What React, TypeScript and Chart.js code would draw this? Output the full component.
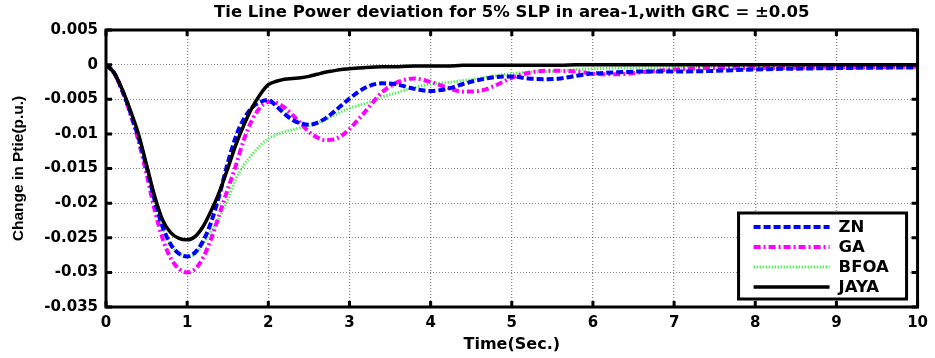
import React, { useEffect, useRef } from 'react';
import { Chart, registerables } from 'chart.js';

Chart.register(...registerables);

const TITLE = 'Tie Line Power deviation for 5% SLP in area-1,with GRC = ±0.05';
const X_LABEL = 'Time(Sec.)';
const Y_LABEL = 'Change in Ptie(p.u.)';

const X_TICKS = [0, 1, 2, 3, 4, 5, 6, 7, 8, 9, 10];
const Y_TICKS = [0.005, 0, -0.005, -0.01, -0.015, -0.02, -0.025, -0.03, -0.035];

const TIME = [
  0, 0.1, 0.2, 0.3, 0.4, 0.5, 0.6, 0.7, 0.8, 0.9,
  1.0, 1.1, 1.2, 1.3, 1.4, 1.5, 1.6, 1.7, 1.8, 1.9,
  2.0, 2.1, 2.2, 2.3, 2.4, 2.5, 2.6, 2.7, 2.8, 2.9,
  3.0, 3.2, 3.4, 3.6, 3.8, 4.0, 4.2, 4.4, 4.6, 4.8,
  5.0, 5.2, 5.4, 5.6, 5.8, 6.0, 6.3, 6.6, 7.0, 7.5,
  8.0, 9.0, 10.0,
];

const ZN = [
  0, -0.0012, -0.0037, -0.0069, -0.0105, -0.0148, -0.0196, -0.0235, -0.0260, -0.0273,
  -0.0277, -0.0271, -0.0254, -0.0226, -0.0187, -0.0142, -0.0104, -0.0078, -0.0062, -0.0054,
  -0.0051, -0.0060, -0.0071, -0.0080, -0.0085, -0.0087, -0.0084, -0.0078, -0.0069, -0.0059,
  -0.0049, -0.0033, -0.0027, -0.0029, -0.0035, -0.0038, -0.0035, -0.0028, -0.0022, -0.0018,
  -0.0017, -0.0020, -0.0021, -0.0020, -0.0016, -0.0013, -0.0011, -0.0010, -0.0010, -0.0009,
  -0.0007, -0.0005, -0.0004,
];

const GA = [
  0, -0.0012, -0.0038, -0.0071, -0.0110, -0.0158, -0.0210, -0.0252, -0.0280, -0.0295,
  -0.0300, -0.0295, -0.0278, -0.0250, -0.0215, -0.0180, -0.0146, -0.0108, -0.0080, -0.0062,
  -0.0054, -0.0055, -0.0062, -0.0073, -0.0085, -0.0097, -0.0105, -0.0109, -0.0108, -0.0103,
  -0.0093, -0.0067, -0.0040, -0.0025, -0.0020, -0.0025, -0.0033, -0.0039, -0.0038, -0.0030,
  -0.0019, -0.0012, -0.0009, -0.0009, -0.0010, -0.0013, -0.0014, -0.0011, -0.0007, -0.0005,
  -0.0005, -0.0004, -0.0003,
];

const BFOA = [
  0, -0.0012, -0.0037, -0.0069, -0.0105, -0.0148, -0.0196, -0.0235, -0.0260, -0.0273,
  -0.0277, -0.0273, -0.0258, -0.0240, -0.0220, -0.0195, -0.0165, -0.0145, -0.0130, -0.0117,
  -0.0107, -0.0101, -0.0097, -0.0094, -0.0091, -0.0088, -0.0084, -0.0079, -0.0074, -0.0068,
  -0.0063, -0.0056, -0.0047, -0.0040, -0.0033, -0.0028, -0.0026, -0.0023, -0.0020, -0.0016,
  -0.0013, -0.0011, -0.0010, -0.0009, -0.0007, -0.0006, -0.0005, -0.0005, -0.0004, -0.0003,
  -0.0003, -0.0002, -0.0002,
];

const JAYA = [
  0, -0.0012, -0.0036, -0.0066, -0.0100, -0.0145, -0.0190, -0.0225, -0.0243, -0.0251,
  -0.0253, -0.0248, -0.0233, -0.0210, -0.0183, -0.0150, -0.0116, -0.0087, -0.0062, -0.0043,
  -0.0029, -0.0024, -0.0021, -0.0020, -0.0019, -0.0017, -0.0014, -0.0011, -0.0009, -0.0007,
  -0.0006, -0.0004, -0.0003, -0.0003, -0.0002, -0.0002, -0.0002, -0.0001, -0.0001, -0.0001,
  -0.0001, -0.0001, -0.0001, -0.0001, 0, 0, 0, 0, 0, 0,
  0, 0, 0,
];

const SERIES_NAMES = ['ZN', 'GA', 'BFOA', 'JAYA'];

const FONT = 'DejaVu Sans';

const toPoints = (ys: number[]) => TIME.map((t, i) => ({ x: t, y: ys[i] }));

const framePlugin = {
  id: 'matlabFrame',
  afterDatasetsDraw(chart: any) {
    const { ctx, chartArea: a, scales } = chart;
    ctx.save();
    ctx.setLineDash([]);
    ctx.strokeStyle = '#000';
    ctx.lineWidth = 3;
    ctx.strokeRect(a.left, a.top, a.right - a.left, a.bottom - a.top);
    const tl = 6;
    ctx.beginPath();
    for (const v of X_TICKS) {
      const px = scales.x.getPixelForValue(v);
      ctx.moveTo(px, a.bottom);
      ctx.lineTo(px, a.bottom - tl);
      ctx.moveTo(px, a.top);
      ctx.lineTo(px, a.top + tl);
    }
    for (const v of Y_TICKS) {
      const py = scales.y.getPixelForValue(v);
      ctx.moveTo(a.left, py);
      ctx.lineTo(a.left + tl, py);
      ctx.moveTo(a.right, py);
      ctx.lineTo(a.right - tl, py);
    }
    ctx.stroke();

    // legend box (bottom-right, inside plot)
    const bw = 168;
    const bh = 86;
    const bx = a.right - 179;
    const by = a.bottom - 94;
    ctx.fillStyle = '#fff';
    ctx.fillRect(bx, by, bw, bh);
    ctx.lineWidth = 3;
    ctx.strokeStyle = '#000';
    ctx.strokeRect(bx, by, bw, bh);
    ctx.font = `bold 16.5px "${FONT}"`;
    ctx.textBaseline = 'middle';
    ctx.textAlign = 'left';
    SERIES_NAMES.forEach((name, i) => {
      const ds = chart.data.datasets.find((d: any) => d.label === name);
      const y = by + 14 + i * 20;
      ctx.save();
      ctx.strokeStyle = ds.borderColor;
      ctx.lineWidth = ds.borderWidth;
      ctx.setLineDash(ds.borderDash || []);
      ctx.beginPath();
      ctx.moveTo(bx + 15, y);
      ctx.lineTo(bx + 91, y);
      ctx.stroke();
      ctx.restore();
      ctx.fillStyle = '#000';
      ctx.fillText(name, bx + 100, y + 1);
    });
    ctx.restore();
  },
};

export default function App() {
  const ref = useRef<HTMLCanvasElement>(null);

  useEffect(() => {
    document.body.style.margin = '0';
    const canvas = ref.current;
    if (!canvas) return;
    const chart = new Chart(canvas, {
      type: 'line',
      data: {
        datasets: [
          {
            label: 'JAYA',
            data: toPoints(JAYA),
            borderColor: '#000000',
            borderWidth: 3.5,
            borderDash: [],
            order: 0,
          },
          {
            label: 'ZN',
            data: toPoints(ZN),
            borderColor: '#0000ff',
            borderWidth: 4,
            borderDash: [7, 3],
            order: 1,
          },
          {
            label: 'GA',
            data: toPoints(GA),
            borderColor: '#ff00ff',
            borderWidth: 4,
            borderDash: [7, 3, 2, 3],
            order: 2,
          },
          {
            label: 'BFOA',
            data: toPoints(BFOA),
            borderColor: '#5cf05c',
            borderWidth: 3,
            borderDash: [1.5, 1.5],
            order: 3,
          },
        ] as any,
      },
      options: {
        animation: false,
        responsive: false,
        devicePixelRatio: 1,
        cubicInterpolationMode: 'monotone',
        elements: { point: { radius: 0 }, line: { tension: 0.4 } },
        layout: { padding: { left: 0, right: 14, top: 0, bottom: 0 } },
        plugins: {
          legend: { display: false },
          tooltip: { enabled: false },
          title: {
            display: true,
            text: TITLE,
            color: '#000',
            fullSize: false,
            font: { family: FONT, size: 16.5, weight: 'bold', lineHeight: 1.2 },
            padding: { top: 3, bottom: 7.2 },
          },
        },
        scales: {
          x: {
            type: 'linear',
            min: 0,
            max: 10,
            afterBuildTicks: (s: any) => {
              s.ticks = X_TICKS.map((v) => ({ value: v }));
            },
            afterFit: (s: any) => {
              s.height = 51;
            },
            ticks: {
              color: '#000',
              padding: 7,
              maxRotation: 0,
              font: { family: FONT, size: 15, weight: 'bold' },
              callback: (v: any) => String(v),
            },
            grid: { color: 'rgba(0,0,0,0.45)', lineWidth: 1.3, drawTicks: false },
            border: { display: false, dash: [1, 2] },
            title: {
              display: true,
              text: X_LABEL,
              color: '#000',
              font: { family: FONT, size: 16, weight: 'bold', lineHeight: 1.2 },
              padding: { top: 0, bottom: 3.5 },
            },
          },
          y: {
            type: 'linear',
            min: -0.035,
            max: 0.005,
            afterBuildTicks: (s: any) => {
              s.ticks = Y_TICKS.map((v) => ({ value: v }));
            },
            afterFit: (s: any) => {
              s.width = 106;
            },
            ticks: {
              color: '#000',
              padding: 8,
              font: { family: FONT, size: 15, weight: 'bold' },
              callback: (v: any) => {
                const r = Math.round(Number(v) * 1000) / 1000;
                return r === 0 ? '0' : String(r);
              },
            },
            grid: { color: 'rgba(0,0,0,0.45)', lineWidth: 1, drawTicks: false },
            border: { display: false, dash: [1, 2] },
            title: {
              display: true,
              text: Y_LABEL,
              color: '#000',
              font: { family: 'Liberation Sans', size: 15.5, weight: 'bold', lineHeight: 1.2 },
              padding: { top: 9, bottom: 0 },
            },
          },
        },
      } as any,
      plugins: [framePlugin],
    });
    return () => chart.destroy();
  }, []);

  return (
    <div style={{ position: 'absolute', left: 0, top: 0, width: 935, height: 358, background: '#fff' }}>
      <canvas ref={ref} width={935} height={358} style={{ display: 'block', width: 935, height: 358 }} />
    </div>
  );
}
